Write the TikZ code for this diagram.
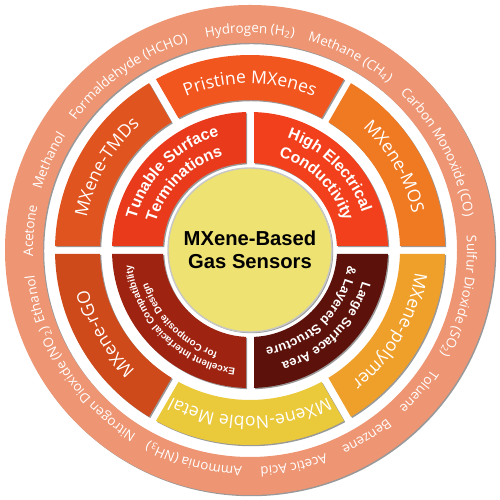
\documentclass[tikz,border=0pt]{standalone}
\usepackage{fontspec}
\setmainfont{Open Sans}
\newfontfamily\headfont{Liberation Sans}
\usetikzlibrary{decorations.text,shadows}
\definecolor{ringout}{HTML}{EE9673}
\definecolor{pristine}{HTML}{F2561F}
\definecolor{mos}{HTML}{F07A22}
\definecolor{polymer}{HTML}{EFA02A}
\definecolor{noble}{HTML}{EAC93B}
\definecolor{rgo}{HTML}{CF4A1A}
\definecolor{tmds}{HTML}{E0541F}
\definecolor{tunable}{HTML}{E93A1C}
\definecolor{high}{HTML}{F2401C}
\definecolor{large}{HTML}{5C120A}
\definecolor{excellent}{HTML}{9E2311}
\definecolor{core}{HTML}{EEE273}
\newcommand{\outfmt}{\fontsize{7.6}{10}\selectfont\color{white}}
\newcommand{\midfmt}{\fontsize{10}{12}\selectfont\color{white}}
\begin{document}
\begin{tikzpicture}[line cap=round]
\tikzset{seg/.style={drop shadow={shadow xshift=.7pt,shadow yshift=-.7pt,fill=black!40,opacity=1}}}
\useasboundingbox (-5,-5) rectangle (5,5);
% outer ring: gases
\fill[seg,fill=ringout] (4.9,0) arc[start angle=0,end angle=360,radius=4.9] -- cycle
  (4.14,0) arc[start angle=360,end angle=0,radius=4.14] -- cycle;
\foreach \t/\gas in {90/Hydrogen (H{\textsubscript{2}}),62.5/Methane (CH{\textsubscript{4}}),
  27.5/Carbon Monoxide (CO),-12.5/Sulfur Dioxide (SO{\textsubscript{2}}),-40/Toluene,
  -58/Benzene,-78.5/Acetic Acid,-105/Ammonia (NH{\textsubscript{3}}),
  -140.5/Nitrogen Dioxide (NO{\textsubscript{2}}),-167/Ethanol,175/Acetone,156/Methanol,
  125/Formaldehyde (HCHO)}
  \path[decorate,decoration={text along path,text align=center,
    text/.expanded={|\noexpand\outfmt|\expandafter\unexpanded\expandafter{\gas}}}]
    (\t+30:4.34) arc[start angle=\t+30,end angle=\t-30,radius=4.34];
%%%
% middle ring: material families
\foreach \a/\b/\col/\txt in {60/120/pristine/Pristine MXenes,0/60/mos/MXene-MOS,
  -60/0/polymer/MXene-polymer,-120/-60/noble/MXene-Noble Metal,
  -180/-120/rgo/MXene-rGO,120/180/tmds/MXene-TMDs}
{
  \pgfmathsetmacro\go{asin(0.08/3.9)}
  \pgfmathsetmacro\gi{asin(0.08/3.0)}
  \fill[seg,fill=\col] (\a+\go:3.9) arc[start angle=\a+\go,end angle=\b-\go,radius=3.9]
    -- (\b-\gi:3.0) arc[start angle=\b-\gi,end angle=\a+\gi,radius=3.0] -- cycle;
  \path[decorate,decoration={text along path,text align=center,
    text/.expanded={|\noexpand\midfmt|\expandafter\unexpanded\expandafter{\txt}}}]
    (\b:3.33) arc[start angle=\b,end angle=\a,radius=3.33];
}
%%%
% inner ring: properties
\foreach \a/\b/\col/\size/\ra/\rb/\first/\second in {
  90/180/tunable/9/2.36/1.96/Tunable Surface/Terminations,
  0/90/high/9/2.36/1.96/High Electrical/Conductivity,
  -90/0/large/7.4/2.33/1.98/Large Surface Area/{\&} Layered Structure,
  180/270/excellent/5.6/2.38/2.14/Excellent Interfacial Compatibility/for Composite Design}
{
  \pgfmathsetmacro\go{asin(0.08/2.76)}
  \pgfmathsetmacro\gi{asin(0.08/1.74)}
  \fill[seg,fill=\col] (\a+\go:2.76) arc[start angle=\a+\go,end angle=\b-\go,radius=2.76]
    -- (\b-\gi:1.74) arc[start angle=\b-\gi,end angle=\a+\gi,radius=1.74] -- cycle;
  \path[decorate,decoration={text along path,text align=center,
    text/.expanded={|\noexpand\headfont\noexpand\bfseries\noexpand\fontsize{\size}{\size}\noexpand\selectfont\noexpand\color{white}|\expandafter\unexpanded\expandafter{\first}}}]
    (\b:\ra) arc[start angle=\b,end angle=\a,radius=\ra];
  \path[decorate,decoration={text along path,text align=center,
    text/.expanded={|\noexpand\headfont\noexpand\bfseries\noexpand\fontsize{\size}{\size}\noexpand\selectfont\noexpand\color{white}|\expandafter\unexpanded\expandafter{\second}}}]
    (\b:\rb) arc[start angle=\b,end angle=\a,radius=\rb];
}
%%%
\node[circle,seg,fill=core,draw=black!22,line width=.8pt,minimum size=3.28cm,inner sep=0pt,
  align=center,font=\headfont\bfseries\fontsize{11.5}{13}\selectfont] (core) at (0,0)
  {MXene-Based\\Gas Sensors};
\end{tikzpicture}
\end{document}
